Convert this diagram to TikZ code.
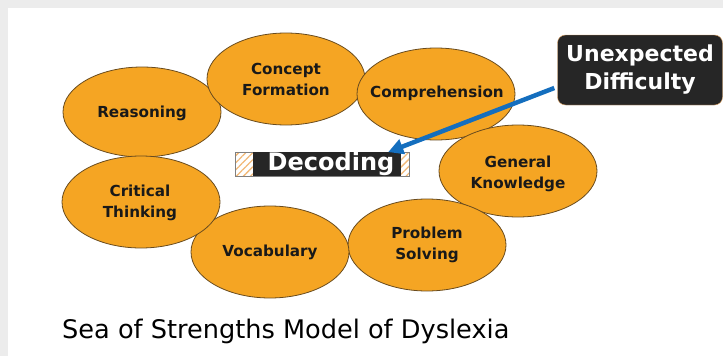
\documentclass[tikz,border=0pt]{standalone}
\usepackage{fontspec}
\setmainfont{DejaVu Sans}
\usepackage{xcolor}
\usepackage{tikz}
\usetikzlibrary{arrows.meta,shapes,positioning,patterns.meta}
\definecolor{seaorange}{RGB}{245, 165, 35}
\definecolor{seabrown}{RGB}{105, 75, 30}
\definecolor{darkbox}{RGB}{38, 38, 38}
\definecolor{arrowblue}{RGB}{20, 110, 190}
\definecolor{hatchorange}{RGB}{242, 185, 120}
\definecolor{slidegray}{RGB}{236, 236, 236}

\tikzset{
  strength/.style={fill=seaorange, draw=seabrown, line width=0.8pt},
  strengthlabel/.style={font=\fontsize{15.2}{21}\selectfont\bfseries, align=center, text=black!90},
}

\begin{document}
\begin{tikzpicture}[x=1pt,y=-1pt]
            % Slide background
            \fill[slidegray] (0,0) rectangle (723,356);
            \fill[white] (8,8) rectangle (723,356);
            \useasboundingbox (0,0) rectangle (723,356);

            % Ring of strengths
            \draw[strength] (142,112) ellipse [x radius=79pt, y radius=45pt];
            \node[strengthlabel] (reasoning) at (142,113) {Reasoning};

            \draw[strength] (286,79) ellipse [x radius=79pt, y radius=46pt];
            \node[strengthlabel] (concept) at (286,79) {Concept\\Formation};

            \draw[strength] (436,94) ellipse [x radius=79pt, y radius=46pt];
            \node[strengthlabel] (comprehension) at (437,93) {Comprehension};

            \draw[strength] (518,171) ellipse [x radius=79pt, y radius=46pt];
            \node[strengthlabel] (knowledge) at (518,174) {General\\Knowledge};

            \draw[strength] (427,245) ellipse [x radius=79pt, y radius=46pt];
            \node[strengthlabel] (problem) at (427,245) {Problem\\Solving};

            \draw[strength] (270,252) ellipse [x radius=79pt, y radius=46pt];
            \node[strengthlabel] (vocabulary) at (270,252) {Vocabulary};

            \draw[strength] (141,202) ellipse [x radius=79pt, y radius=46pt];
            \node[strengthlabel] (critical) at (140,203) {Critical\\Thinking};

            % Weakness in the middle
            \node[draw=gray, pattern={Lines[angle=45, distance=5pt, line width=1.3pt]}, pattern color=hatchorange,
                  minimum width=174pt, minimum height=24pt, inner sep=0] (decframe) at (322,164) {};
            \node[fill=darkbox, text=white, font=\fontsize{24}{24}\selectfont\bfseries,
                  minimum width=148pt, minimum height=20pt, inner sep=0] (decoding) at (327,164) {\hspace{8pt}Decoding};

            % Callout
            \node[fill=darkbox, draw=hatchorange!60!brown, rounded corners=8pt, text=white, align=center,
                  font=\fontsize{22}{28}\selectfont\bfseries,
                  minimum width=165pt, minimum height=70pt, inner sep=0] (unexpected) at (640,70) {Unexpected\\Difficulty};
            \draw[-{Triangle[length=15pt, width=15pt]}, arrowblue, line width=4.5pt]
                ([xshift=-3pt, yshift=-18pt]unexpected.west) -- ([xshift=-13pt]decoding.north east);

            % Title
            \node[anchor=west, inner sep=0, font=\fontsize{25.6}{30}\selectfont] (title) at (62,331) {Sea of Strengths Model of Dyslexia};
        \end{tikzpicture}
\end{document}
